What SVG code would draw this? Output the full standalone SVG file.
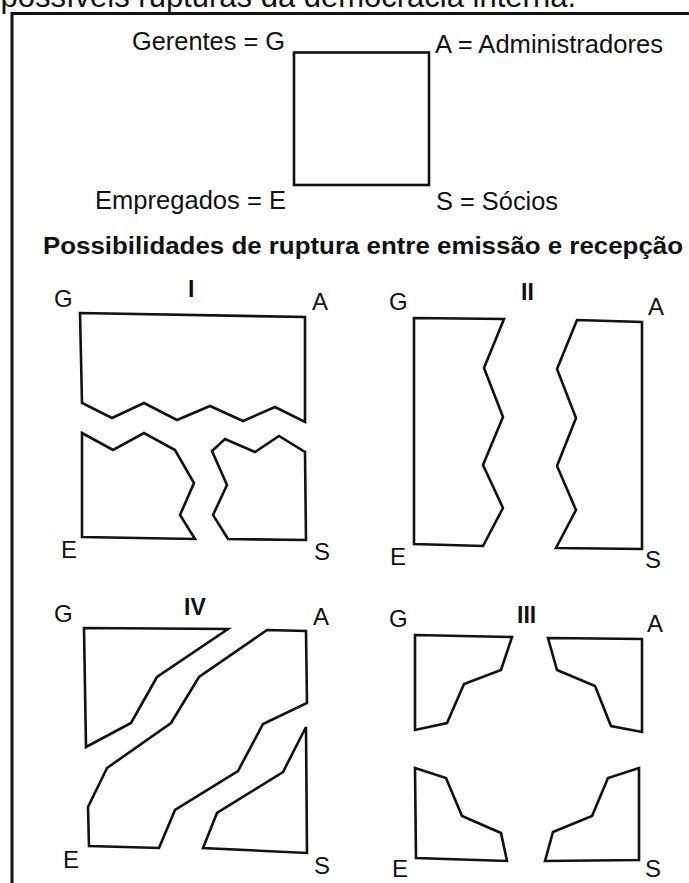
<svg xmlns="http://www.w3.org/2000/svg" width="689" height="883" viewBox="0 0 689 883">
  <style>
    .t { font-family: "Liberation Sans", Arial, sans-serif; fill: #111; }
    .lg { font-size: 25px; }
    .lb { font-size: 24px; }
    .num { font-size: 23px; font-weight: bold; }
    .ttl { font-size: 23px; font-weight: bold; }
    .sh { fill: none; stroke: #111; stroke-width: 2.6; stroke-linejoin: miter; }
    .frame { fill: none; stroke: #111; stroke-width: 3; }
  </style>
  <rect x="0" y="0" width="689" height="883" fill="#ffffff"/>

  <g id="header">
    <text class="t" x="576" y="7" font-size="31" text-anchor="end">possíveis rupturas da democracia interna.</text>
  </g>

  <g id="frame">
    <path class="frame" d="M12,883 V13.5 H689"/>
  </g>

  <g id="legend">
    <text class="t lg" x="132" y="50" textLength="153" lengthAdjust="spacingAndGlyphs">Gerentes = G</text>
    <text class="t lg" x="435" y="53" textLength="228" lengthAdjust="spacingAndGlyphs">A = Administradores</text>
    <rect class="sh" x="294" y="52.5" width="135" height="132.5"/>
    <text class="t lg" x="95" y="209" textLength="191" lengthAdjust="spacingAndGlyphs">Empregados = E</text>
    <text class="t lg" x="436" y="210" textLength="122" lengthAdjust="spacingAndGlyphs">S = Sócios</text>
  </g>

  <g id="title">
    <text class="t ttl" x="43" y="254" textLength="640" lengthAdjust="spacingAndGlyphs">Possibilidades de ruptura entre emissão e recepção</text>
  </g>

  <g id="panel-I">
    <text class="t lb" x="54" y="307">G</text>
    <text class="t num" x="188" y="297">I</text>
    <text class="t lb" x="312" y="310">A</text>
    <text class="t lb" x="61" y="558">E</text>
    <text class="t lb" x="314" y="560">S</text>
    <polygon class="sh" points="80,313 305,317 305,422 275,407 243,421 210,406 177,420 144,403 112,418 82,403"/>
    <polygon class="sh" points="82,433 113,450 144,433 175,450 194,483 180,515 195,539 82,537"/>
    <polygon class="sh" points="212,451 225,439 255,452 279,436 305,452 306,540 228,539 213,515 227,485"/>
  </g>

  <g id="panel-II">
    <text class="t lb" x="389" y="310">G</text>
    <text class="t num" x="521" y="300">II</text>
    <text class="t lb" x="648" y="315">A</text>
    <text class="t lb" x="390" y="565">E</text>
    <text class="t lb" x="645" y="568">S</text>
    <polygon class="sh" points="414,318 504,319 484,368 503,417 483,465 503,508 483,546 414,544"/>
    <polygon class="sh" points="577,320 642,322 642,549 556,548 576,510 557,466 576,418 557,369"/>
  </g>

  <g id="panel-IV">
    <text class="t lb" x="54" y="622">G</text>
    <text class="t num" x="184" y="615">IV</text>
    <text class="t lb" x="313" y="625">A</text>
    <text class="t lb" x="63" y="868">E</text>
    <text class="t lb" x="314" y="874">S</text>
    <polygon class="sh" points="84,628 228,629 157,677 131,723 86,747"/>
    <polygon class="sh" points="267,630 306,631 307,703 263,724 238,771 175,810 159,848 89,846 88,807 107,768 171,723 199,677"/>
    <polygon class="sh" points="306,727 307,853 203,848 217,813 283,772"/>
  </g>

  <g id="panel-III">
    <text class="t lb" x="389" y="627">G</text>
    <text class="t num" x="517" y="623">III</text>
    <text class="t lb" x="647" y="632">A</text>
    <text class="t lb" x="392" y="877">E</text>
    <text class="t lb" x="645" y="877">S</text>
    <polygon class="sh" points="415,635 512,637 501,670 464,684 447,723 415,730"/>
    <polygon class="sh" points="548,638 642,639 642,732 611,726 595,686 557,670"/>
    <polygon class="sh" points="415,768 446,778 462,816 501,833 507,861 416,858"/>
    <polygon class="sh" points="639,768 639,860 545,861 553,832 592,816 608,778"/>
  </g>
</svg>
